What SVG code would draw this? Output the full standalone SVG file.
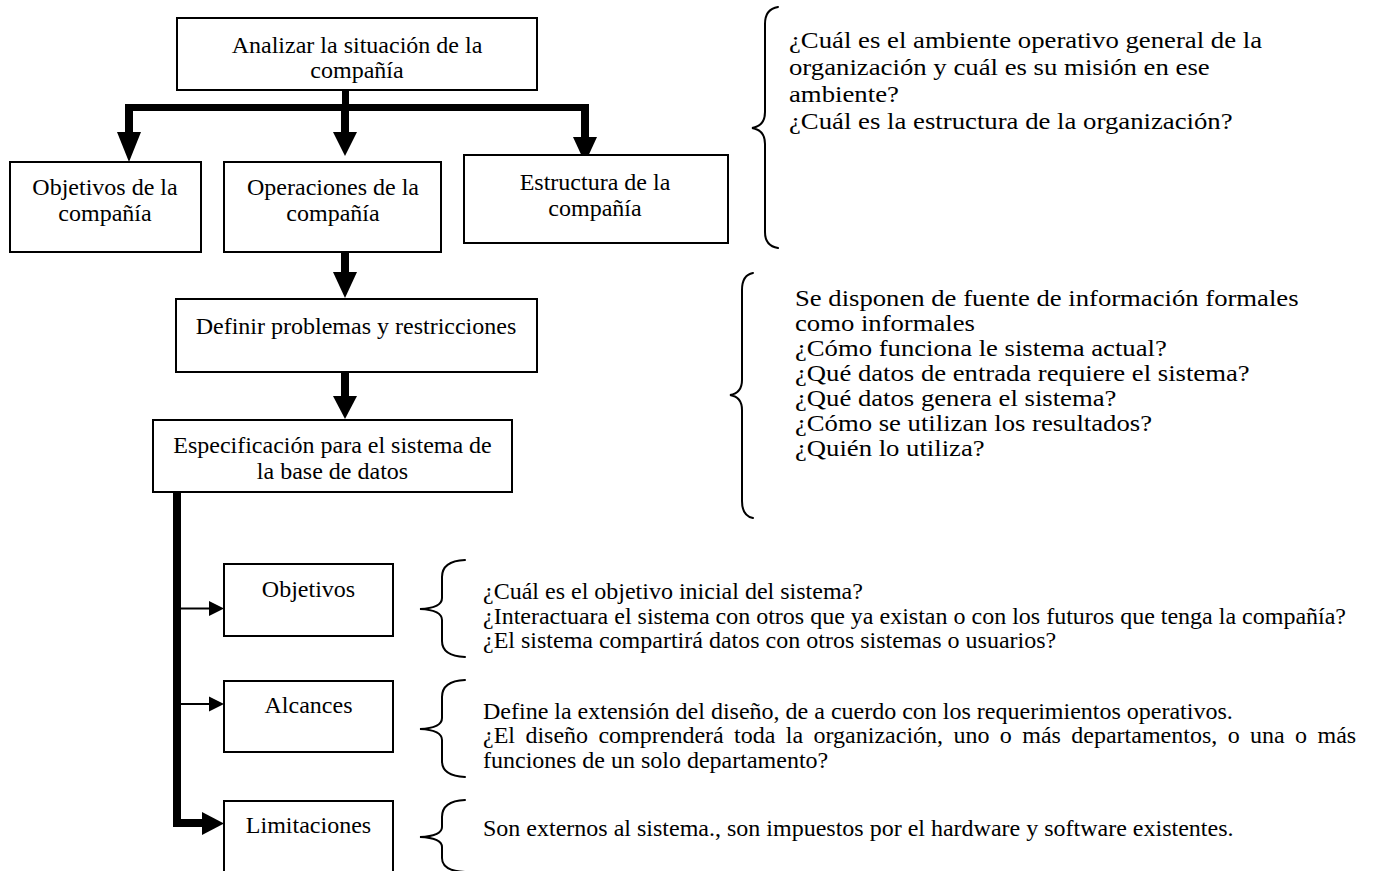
<svg xmlns="http://www.w3.org/2000/svg" width="1373" height="871" viewBox="0 0 1373 871">
<style>
  .box { fill: #fff; stroke: #000; stroke-width: 2; }
  .t { font-family: "Liberation Serif", "Times New Roman", serif; font-size: 24px; fill: #000; }
  .c { text-anchor: middle; }
  .bar { fill: #000; stroke: none; }
  .thin { stroke: #000; stroke-width: 2; fill: none; }
  .brace { stroke: #000; stroke-width: 2; fill: none; stroke-linecap: round; }
</style>
<rect x="0" y="0" width="1373" height="871" fill="#fff"/>

<g id="connectors">
  <rect class="bar" x="342" y="89" width="7" height="16"/>
  <rect class="bar" x="125" y="104" width="464" height="7"/>
  <rect class="bar" x="125" y="110" width="8" height="24"/>
  <polygon class="bar" points="117,132 141,132 129,162"/>
  <rect class="bar" x="341" y="110" width="8" height="24"/>
  <polygon class="bar" points="333,132 357,132 345,156"/>
  <rect class="bar" x="581" y="110" width="8" height="29"/>
  <polygon class="bar" points="573,137 597,137 585,163"/>
  <rect class="bar" x="341" y="252" width="8" height="22"/>
  <polygon class="bar" points="333,272 357,272 345,298"/>
  <rect class="bar" x="341" y="372" width="8" height="26"/>
  <polygon class="bar" points="333,396 357,396 345,419"/>
  <rect class="bar" x="173" y="488" width="8" height="339"/>
  <rect class="bar" x="173" y="819" width="30" height="8"/>
  <polygon class="bar" points="202,812 202,835 224,823.5"/>
  <line class="thin" x1="181" y1="608.5" x2="211" y2="608.5"/>
  <polygon class="bar" points="209,601 209,616 224,608.5"/>
  <line class="thin" x1="181" y1="704" x2="211" y2="704"/>
  <polygon class="bar" points="209,696.5 209,711.5 224,704"/>
</g>

<g id="n-analizar">
  <rect class="box" x="177" y="18" width="360" height="72"/>
  <text class="t c" x="357" y="53">Analizar la situación de la</text>
  <text class="t c" x="357" y="78">compañía</text>
</g>

<g id="n-objetivos-compania">
  <rect class="box" x="10" y="162" width="191" height="90"/>
  <text class="t c" x="105" y="195">Objetivos de la</text>
  <text class="t c" x="105" y="221">compañía</text>
</g>

<g id="n-operaciones">
  <rect class="box" x="224" y="162" width="217" height="90"/>
  <text class="t c" x="333" y="195">Operaciones de la</text>
  <text class="t c" x="333" y="221">compañía</text>
</g>

<g id="n-estructura">
  <rect class="box" x="464" y="155" width="264" height="88"/>
  <text class="t c" x="595" y="190">Estructura de la</text>
  <text class="t c" x="595" y="216">compañía</text>
</g>

<g id="n-definir">
  <rect class="box" x="176" y="299" width="361" height="73"/>
  <text class="t c" x="356" y="334">Definir problemas y restricciones</text>
</g>

<g id="n-especificacion">
  <rect class="box" x="153" y="420" width="359" height="72"/>
  <text class="t c" x="332.5" y="453">Especificación para el sistema de</text>
  <text class="t c" x="332.5" y="479">la base de datos</text>
</g>

<g id="n-objetivos">
  <rect class="box" x="224" y="564" width="169" height="72"/>
  <text class="t c" x="308.5" y="597">Objetivos</text>
</g>

<g id="n-alcances">
  <rect class="box" x="224" y="681" width="169" height="71"/>
  <text class="t c" x="308.5" y="713">Alcances</text>
</g>

<g id="n-limitaciones">
  <rect class="box" x="224" y="801" width="169" height="80"/>
  <text class="t c" x="308.5" y="833">Limitaciones</text>
</g>

<g id="note-organizacion">
  <path class="brace" d="M778,7 Q765,9 765,24 L765,112 Q765,126 752,128 Q765,130 765,144 L765,232 Q765,246 778,248"/>
  <g transform="translate(789,0) scale(1.115,1)">
    <text class="t" x="0" y="48">¿Cuál es el ambiente operativo general de la</text>
    <text class="t" x="0" y="75">organización y cuál es su misión en ese</text>
    <text class="t" x="0" y="102">ambiente?</text>
    <text class="t" x="0" y="129">¿Cuál es la estructura de la organización?</text>
  </g>
</g>

<g id="note-fuentes">
  <path class="brace" d="M753,273 Q742,275 742,290 L742,380 Q742,393 730,395 Q742,397 742,410 L742,501 Q742,516 753,518"/>
  <g transform="translate(795,0) scale(1.112,1)">
    <text class="t" x="0" y="306">Se disponen de fuente de información formales</text>
    <text class="t" x="0" y="331">como informales</text>
    <text class="t" x="0" y="356">¿Cómo funciona le sistema actual?</text>
    <text class="t" x="0" y="381">¿Qué datos de entrada requiere el sistema?</text>
    <text class="t" x="0" y="406">¿Qué datos genera el sistema?</text>
    <text class="t" x="0" y="431">¿Cómo se utilizan los resultados?</text>
    <text class="t" x="0" y="456">¿Quién lo utiliza?</text>
  </g>
</g>

<g id="note-objetivos">
  <path class="brace" d="M465,560 Q442,561 442,577 L442,598 Q442,608 420,609 Q442,610 442,620 L442,641 Q442,656 465,657"/>
  <text class="t" x="483" y="599">¿Cuál es el objetivo inicial del sistema?</text>
  <text class="t" x="483" y="624">¿Interactuara el sistema con otros que ya existan o con los futuros que tenga la compañía?</text>
  <text class="t" x="483" y="648">¿El sistema compartirá datos con otros sistemas o usuarios?</text>
</g>

<g id="note-alcances">
  <path class="brace" d="M465,680 Q442,681 442,697 L442,718 Q442,728 420,729 Q442,730 442,740 L442,761 Q442,776 465,777"/>
  <text class="t" x="483" y="719">Define la extensión del diseño, de a cuerdo con los requerimientos operativos.</text>
  <text class="t" x="483" y="743" word-spacing="4.4">¿El diseño comprenderá toda la organización, uno o más departamentos, o una o más</text>
  <text class="t" x="483" y="768">funciones de un solo departamento?</text>
</g>

<g id="note-limitaciones">
  <path class="brace" d="M465,800 Q442,801 442,817 L442,827 Q442,836 420,837 Q442,838 442,847 L442,858 Q442,871 465,872"/>
  <text class="t" x="483" y="836">Son externos al sistema., son impuestos por el hardware y software existentes.</text>
</g>
</svg>
